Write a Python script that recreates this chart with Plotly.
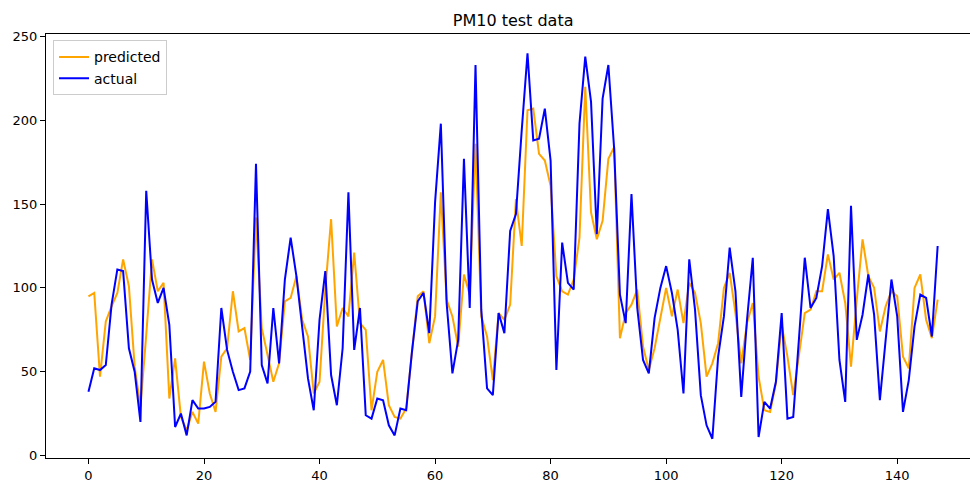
import plotly.graph_objects as go

x_index = list(range(148))

predicted = [95, 97, 47, 80, 89, 97, 117, 101, 53, 29,
             72, 117, 98, 103, 34, 58, 23, 15, 26, 19,
             56, 37, 26, 59, 64, 98, 74, 76, 57, 142,
             76, 60, 44, 55, 92, 94, 107, 81, 71, 37,
             44, 99, 141, 77, 88, 83, 121, 79, 75, 27,
             50, 57, 30, 23, 22, 28, 60, 95, 98, 67,
             83, 157, 93, 83, 65, 108, 96, 186, 83, 71,
             45, 85, 81, 90, 153, 125, 206, 207, 180, 176,
             161, 107, 98, 96, 105, 130, 220, 145, 129, 140,
             177, 184, 70, 85, 90, 99, 65, 51, 64, 81,
             100, 83, 99, 79, 103, 97, 79, 47, 55, 67,
             100, 109, 85, 55, 79, 91, 47, 27, 26, 43,
             78, 59, 36, 60, 85, 87, 98, 98, 120, 105,
             109, 91, 53, 93, 129, 107, 100, 74, 89, 98,
             95, 59, 52, 100, 108, 81, 70, 93]

actual = [38, 52, 51, 54, 90, 111, 110, 64, 50, 20,
          158, 105, 91, 100, 78, 17, 25, 12, 33, 28,
          28, 29, 32, 88, 63, 50, 39, 40, 50, 174,
          54, 43, 88, 55, 105, 130, 107, 75, 46, 27,
          81, 110, 48, 30, 64, 157, 63, 88, 24, 22,
          34, 33, 18, 12, 28, 27, 62, 92, 97, 73,
          151, 198, 91, 49, 69, 177, 88, 233, 87, 40,
          36, 85, 73, 134, 144, 194, 240, 188, 189, 207,
          176, 51, 127, 103, 99, 198, 238, 211, 132, 213,
          233, 183, 96, 79, 156, 88, 57, 49, 82, 100,
          113, 97, 75, 37, 117, 87, 36, 18, 10, 59,
          83, 124, 98, 35, 81, 118, 11, 32, 28, 44,
          85, 22, 23, 70, 118, 88, 94, 113, 147, 119,
          57, 32, 149, 69, 84, 108, 84, 33, 69, 105,
          83, 26, 45, 77, 96, 94, 71, 125]

x_ticks = [0, 20, 40, 60, 80, 100, 120, 140]
y_ticks = [0, 50, 100, 150, 200, 250]

fig = go.Figure()
fig.add_trace(go.Scatter(x=x_index, y=predicted, mode="lines", name="predicted",
                         line=dict(color="orange", width=2)))
fig.add_trace(go.Scatter(x=x_index, y=actual, mode="lines", name="actual",
                         line=dict(color="blue", width=2)))

axis_common = dict(showgrid=False, zeroline=False, showline=True, linecolor="black",
                   linewidth=1, ticks="outside", ticklen=5, tickwidth=1, tickcolor="black",
                   tickfont=dict(family="DejaVu Sans", size=13, color="black"))

fig.update_layout(
    width=970, height=486,
    margin=dict(l=46, r=0, t=34, b=28),
    paper_bgcolor="white", plot_bgcolor="white",
    font=dict(family="DejaVu Sans", color="black"),
    title=dict(text="PM10 test data", x=0.529, xref="container", xanchor="center",
               y=0.958, yref="container", yanchor="middle",
               font=dict(family="DejaVu Sans", size=16, color="black")),
    xaxis=dict(range=[-7.35, 152.6], tickvals=x_ticks, mirror=True, **axis_common),
    yaxis=dict(range=[-1.5, 251.5], tickvals=y_ticks, **axis_common),
    legend=dict(x=0.0076, y=0.985, xanchor="left", yanchor="top",
                bgcolor="white", bordercolor="#cccccc", borderwidth=1,
                tracegroupgap=0, itemwidth=30,
                font=dict(family="DejaVu Sans", size=14, color="black")),
    showlegend=True,
)

fig.write_html("out.html")
